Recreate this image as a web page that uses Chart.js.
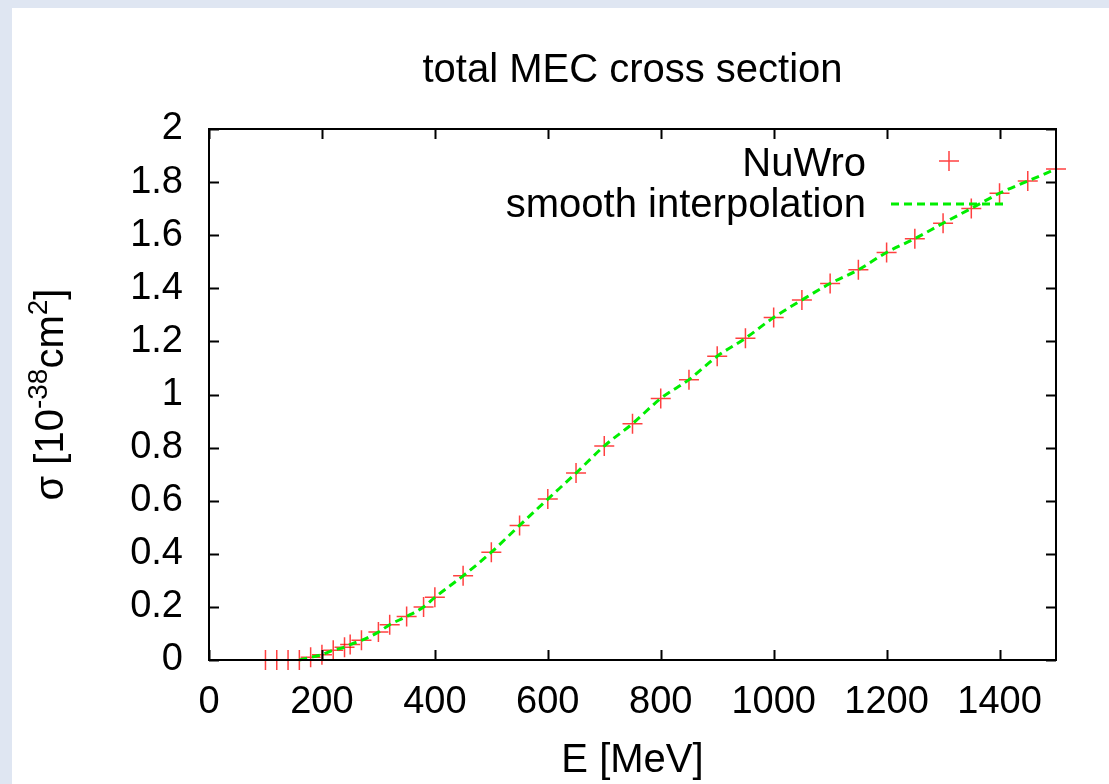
<!DOCTYPE html>
<html>
<head>
<meta charset="utf-8">
<title>total MEC cross section</title>
<script src="https://cdn.jsdelivr.net/npm/chart.js@4.4.0/dist/chart.umd.min.js"></script>
<style>
  html, body { margin: 0; padding: 0; background: #dfe6f2; overflow: hidden; }
  #wrap { position: absolute; left: 12px; top: 8px; width: 1097px; height: 776px; background: #fff; }
</style>
</head>
<body>
<div id="wrap"><canvas id="chart" width="1097" height="776"></canvas></div>
<script>
// E [MeV] and sigma [1e-38 cm^2]
const energy = [100, 120, 140, 160, 180, 200, 220, 240, 250, 270, 300, 320, 350, 380, 400,
  450, 500, 550, 600, 650, 700, 750, 800, 850, 900, 950, 1000, 1050, 1100, 1150, 1200,
  1250, 1300, 1350, 1400, 1450, 1500];
const sigma = [0, 0, 0, 0, 0.01, 0.02, 0.037, 0.048, 0.058, 0.074, 0.105, 0.133, 0.164, 0.2, 0.236,
  0.317, 0.406, 0.507, 0.606, 0.704, 0.806, 0.89, 0.985, 1.056, 1.144, 1.212, 1.29, 1.356, 1.418, 1.47, 1.535,
  1.587, 1.645, 1.701, 1.758, 1.804, 1.849];
const smoothStart = 160; // the interpolation curve starts here
const xTicks = [0, 200, 400, 600, 800, 1000, 1200, 1400];
const yTicks = [0, 0.2, 0.4, 0.6, 0.8, 1, 1.2, 1.4, 1.6, 1.8, 2];
const seriesNames = ['NuWro', 'smooth interpolation'];

const FONT = '"Liberation Sans", Arial, Helvetica, sans-serif';
const RED = 'rgba(255, 0, 0, 0.75)';
const GREEN = '#00ee00';

const nuwroPts = energy.map((e, i) => ({ x: e, y: sigma[i] }));
const smoothPts = nuwroPts.filter(p => p.x >= smoothStart);

// frame, inward ticks on all four sides, titles and legend (gnuplot look)
const gnuplotDecor = {
  id: 'gnuplotDecor',
  afterDraw(chart) {
    const { ctx, chartArea: a, scales } = chart;
    const tl = 10;
    ctx.save();
    ctx.strokeStyle = '#000';
    ctx.lineWidth = 2;
    ctx.beginPath();
    xTicks.forEach(v => {
      const px = Math.round(scales.x.getPixelForValue(v)) + 0.5;
      ctx.moveTo(px, a.bottom); ctx.lineTo(px, a.bottom - tl);
      ctx.moveTo(px, a.top); ctx.lineTo(px, a.top + tl);
    });
    yTicks.forEach(v => {
      const py = Math.round(scales.y.getPixelForValue(v)) + 0.5;
      ctx.moveTo(a.left, py); ctx.lineTo(a.left + tl, py);
      ctx.moveTo(a.right, py); ctx.lineTo(a.right - tl, py);
    });
    ctx.stroke();
    ctx.strokeRect(a.left, a.top, a.right - a.left, a.bottom - a.top);

    ctx.fillStyle = '#000';
    ctx.textBaseline = 'alphabetic';
    ctx.font = '40px ' + FONT;
    ctx.textAlign = 'center';
    const cx = (a.left + a.right) / 2;
    ctx.fillText('total MEC cross section', cx, 74);
    ctx.fillText('E [MeV]', cx, 764);

    // y axis title with superscripts
    const parts = [
      ['σ [10', 40, 0], ['-38', 28, -16], ['cm', 40, 0], ['2', 28, -16], [']', 40, 0]
    ];
    let total = 0;
    parts.forEach(p => { ctx.font = p[1] + 'px ' + FONT; total += ctx.measureText(p[0]).width; });
    ctx.save();
    ctx.translate(51, (a.top + a.bottom) / 2);
    ctx.rotate(-Math.PI / 2);
    ctx.textAlign = 'left';
    let x = -total / 2;
    parts.forEach(p => {
      ctx.font = p[1] + 'px ' + FONT;
      ctx.fillText(p[0], x, p[2]);
      x += ctx.measureText(p[0]).width;
    });
    ctx.restore();

    // legend
    ctx.font = '40px ' + FONT;
    ctx.textAlign = 'right';
    const tx = a.right - 190;
    ctx.fillText(seriesNames[0], tx, 168);
    ctx.fillText(seriesNames[1], tx, 209);
    const sx = a.right - 107;
    ctx.strokeStyle = RED;
    ctx.lineWidth = 1.5;
    ctx.beginPath();
    ctx.moveTo(sx - 10, 153); ctx.lineTo(sx + 10, 153);
    ctx.moveTo(sx, 143); ctx.lineTo(sx, 163);
    ctx.stroke();
    ctx.strokeStyle = GREEN;
    ctx.lineWidth = 3;
    ctx.setLineDash([8, 5]);
    ctx.beginPath();
    ctx.moveTo(a.right - 165, 196); ctx.lineTo(a.right - 48, 196);
    ctx.stroke();
    ctx.restore();
  }
};

new Chart(document.getElementById('chart'), {
  type: 'scatter',
  data: {
    datasets: [
      {
        label: seriesNames[0],
        data: nuwroPts,
        showLine: false,
        pointStyle: 'cross',
        pointRadius: 10,
        pointBorderWidth: 1.5,
        borderColor: RED,
        backgroundColor: RED,
        clip: false,
        order: 2
      },
      {
        label: seriesNames[1],
        data: smoothPts,
        showLine: true,
        pointRadius: 0,
        borderColor: GREEN,
        borderWidth: 3,
        borderDash: [8, 5],
        cubicInterpolationMode: 'monotone',
        fill: false,
        clip: false,
        order: 1
      }
    ]
  },
  options: {
    responsive: false,
    animation: false,
    devicePixelRatio: 1,
    layout: { padding: { top: 121, right: 53, left: 0, bottom: 0 } },
    plugins: {
      legend: { display: false },
      tooltip: { enabled: false },
      title: { display: false }
    },
    scales: {
      x: {
        type: 'linear',
        min: 0,
        max: 1500,
        afterBuildTicks: s => { s.ticks = xTicks.map(v => ({ value: v })); },
        afterFit: s => { s.height = 124; },
        grid: { display: false, drawTicks: false },
        border: { display: false },
        ticks: {
          color: '#000', font: { family: FONT, size: 38 }, padding: 20, maxRotation: 0, autoSkip: false,
          callback: v => String(v)
        }
      },
      y: {
        type: 'linear',
        min: 0,
        max: 2,
        afterBuildTicks: s => { s.ticks = yTicks.map(v => ({ value: v })); },
        afterFit: s => { s.width = 197; },
        grid: { display: false, drawTicks: false },
        border: { display: false },
        ticks: {
          color: '#000', font: { family: FONT, size: 38 }, padding: 26, autoSkip: false,
          callback: v => String(+v.toFixed(1))
        }
      }
    }
  },
  plugins: [gnuplotDecor]
});
</script>
</body>
</html>
